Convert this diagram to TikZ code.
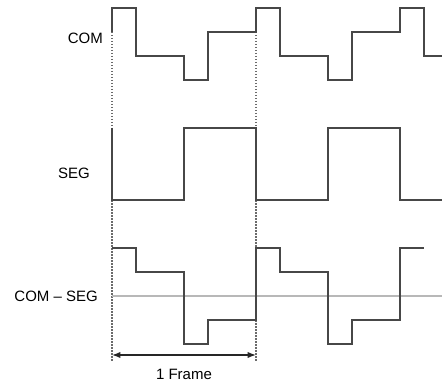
\documentclass[tikz,border=0pt]{standalone}
\usepackage{fontspec}
\setmainfont{Liberation Sans}
\usetikzlibrary{arrows.meta,positioning}
\tikzset{
  wave/.style={draw=black!72, line width=1.3pt},
  zeroline/.style={draw=black!28, line width=1.1pt},
  framemark/.style={draw=black!58, line width=1.2pt, dash pattern=on 1.5pt off 1.5pt},
  dimline/.style={Latex-Latex, draw=black!85, line width=1.2pt},
  sig/.style={anchor=east, inner sep=0pt, font=\fontsize{15}{17}\selectfont}
}
\begin{document}
\begin{tikzpicture}[x=1pt, y=-1pt]
  \useasboundingbox (0,0) rectangle (442,385);

  % signal names
  \node[sig] (com) at (103,38) {COM};
  \node[sig] (seg) at (90,173) {SEG};
  \node[sig] (diff) at (98,296) {COM -- SEG};

  % one frame
  \coordinate (fa) at (112,32);
  \coordinate (fb) at (256,32);
  \coordinate (fa end) at (112,362);
  \coordinate (fb end) at (256,362);
  \coordinate (da) at (112,355);
  \coordinate (db) at (256,355);
  \draw[framemark] (fa) -- (fa end);
  \draw[framemark] (fb) -- (fb end);

  \draw[zeroline] (112,296) -- (442,296);

  \draw[wave] (112,32) -- (112,8) -- (136,8) -- (136,56) -- (184,56) -- (184,80)
    -- (208,80) -- (208,32) -- (256,32) -- (256,8) -- (280,8) -- (280,56)
    -- (328,56) -- (328,80) -- (352,80) -- (352,32) -- (400,32) -- (400,8)
    -- (424,8) -- (424,56) -- (442,56);
  \draw[wave] (112,128) -- (112,200) -- (184,200) -- (184,128) -- (256,128)
    -- (256,200) -- (328,200) -- (328,128) -- (400,128) -- (400,200) -- (442,200);
  \draw[wave] (112,248) -- (136,248) -- (136,272) -- (184,272) -- (184,344)
    -- (208,344) -- (208,320) -- (256,320) -- (256,248) -- (280,248) -- (280,272)
    -- (328,272) -- (328,344) -- (352,344) -- (352,320) -- (400,320) -- (400,248)
    -- (424,248);

  \draw[dimline] (da) -- (db);
  \node[font=\fontsize{15}{17}\selectfont, inner sep=0pt] (frame) at (184,374) {1 Frame};
\end{tikzpicture}
\end{document}
